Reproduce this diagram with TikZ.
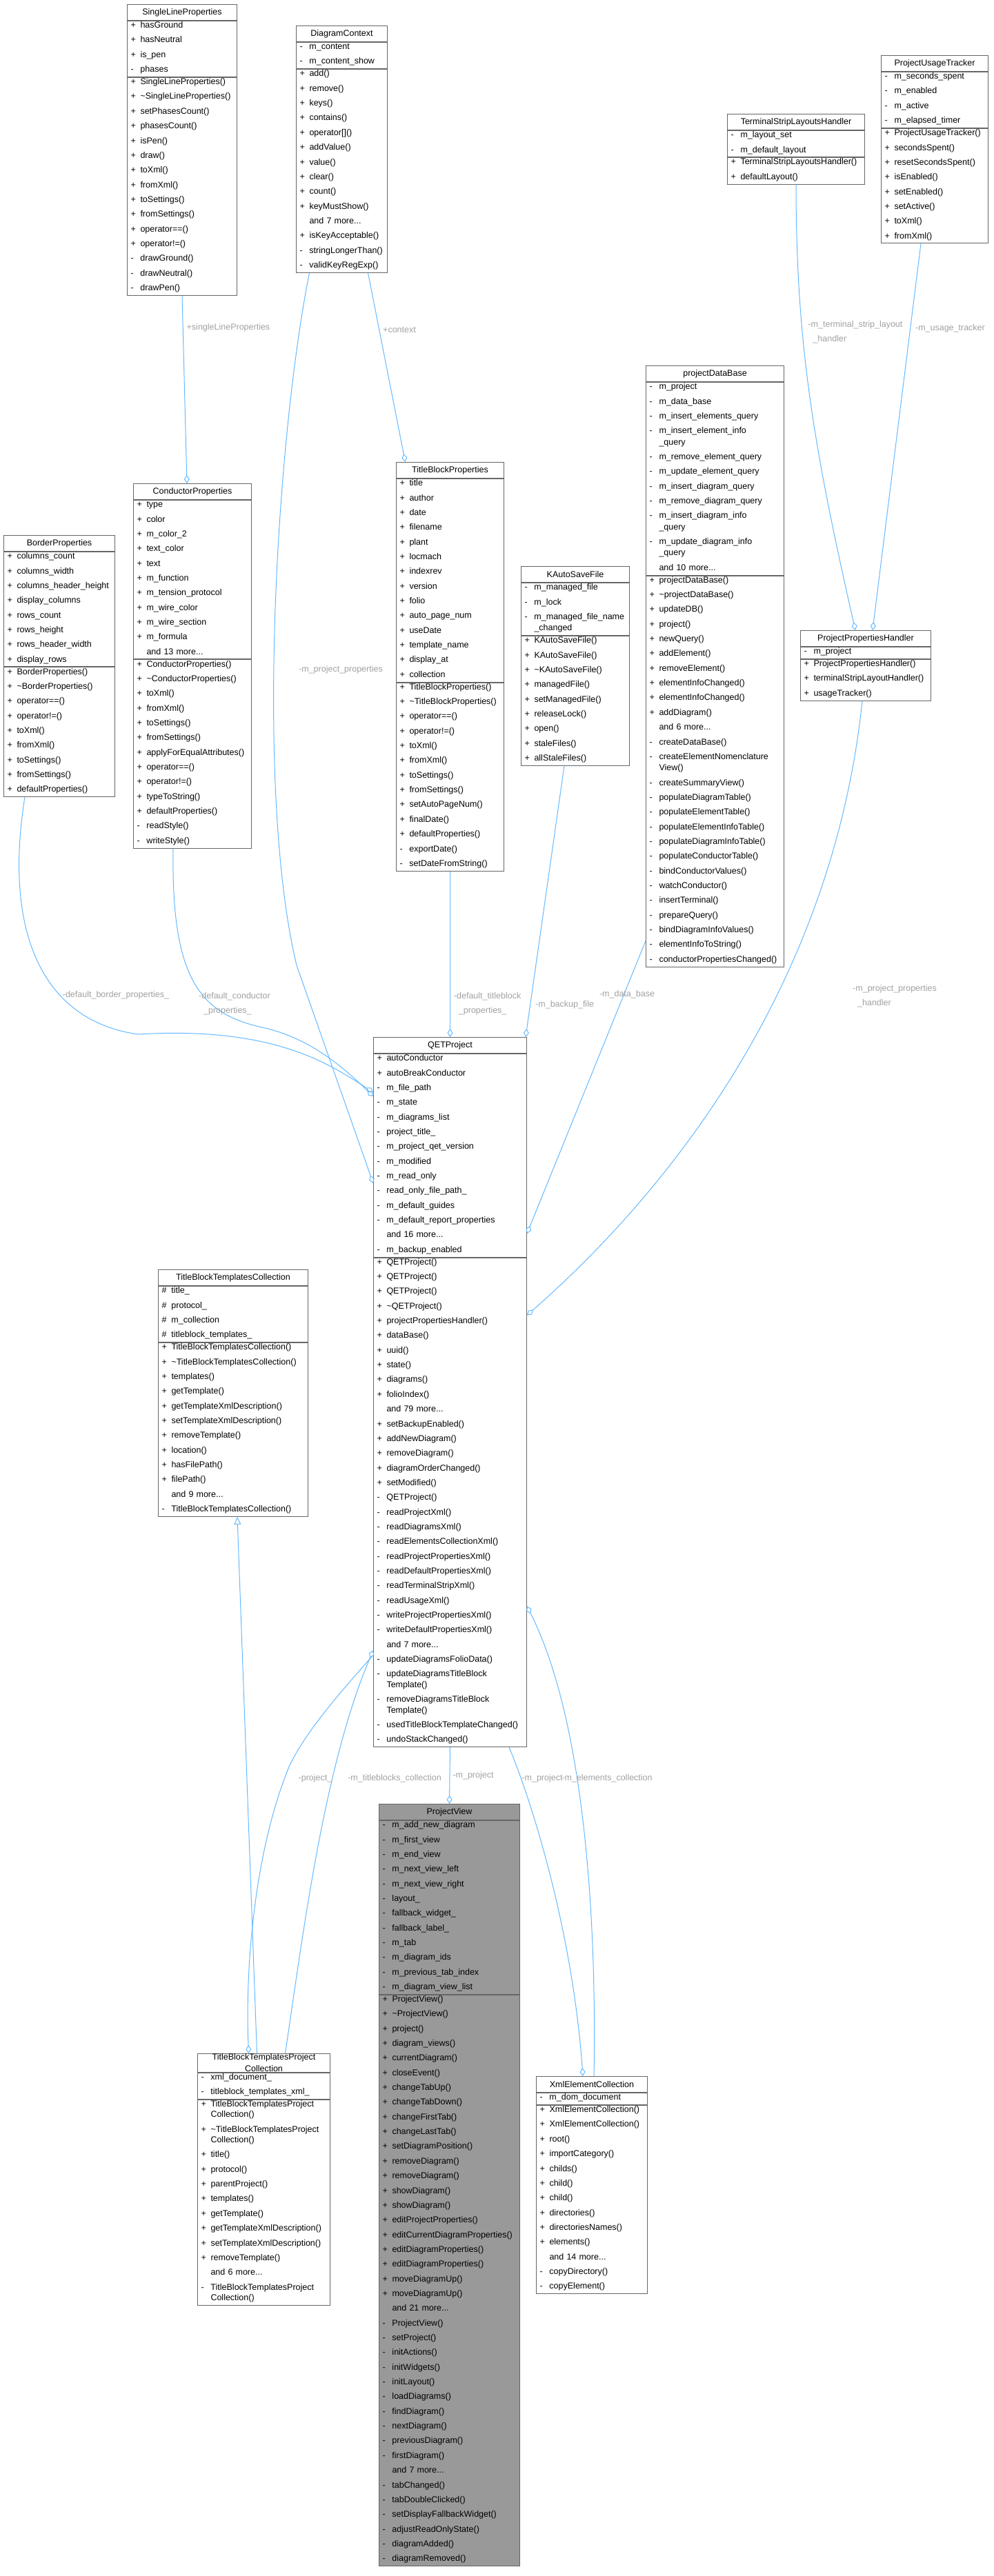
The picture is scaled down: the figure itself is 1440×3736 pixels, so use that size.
\documentclass[tikz,border=0pt]{standalone}
\usepackage{fontspec}
\setmainfont{Liberation Sans}
\usetikzlibrary{arrows.meta,calc}

\definecolor{edgeblue}{HTML}{63B8FF}
\definecolor{boxgray}{HTML}{666666}
\definecolor{lblgray}{HTML}{A0A0A0}
\definecolor{viewfill}{HTML}{999999}

\newcommand{\rs}{\rule[-6pt]{0pt}{15.35pt}}
\newcommand{\rowp}[1]{\rs\makebox[14pt][l]{+}#1}
\newcommand{\rowm}[1]{\rs\makebox[14pt][l]{-}#1}
\newcommand{\rowh}[1]{\rs\makebox[14pt][l]{\#}#1}
\newcommand{\rown}[1]{\rs\makebox[14pt][l]{}#1}
\newcommand{\ti}{\textasciitilde}

\tikzset{
  every picture/.style={line width=1pt},
  cls title/.style={draw=boxgray, inner sep=0pt, minimum height=23pt, align=center, anchor=north west},
  cls body/.style={draw=boxgray, inner xsep=5pt, inner ysep=0.8pt, align=left, anchor=north west},
  cls focus/.style={fill=viewfill},
  agg/.style={draw=edgeblue, line width=1pt, -{Diamond[open, length=12pt, width=8pt]}},
  inh/.style={draw=edgeblue, line width=1pt, -{Triangle[open, length=11pt, width=10pt]}},
  lbl/.style={text=lblgray, inner sep=1pt, align=left},
}

% [style] name, x, y, width, title, attributes, methods
\newcommand{\umlclass}[8][]{%
  \pgfmathsetmacro\tw{#5-10}
  \node[cls title, minimum width=#5pt, #1] (#2) at (#3,#4) {#6};
  \node[cls body, text width=\tw pt, #1] (#2-a) at (#2.south west) {#7};
  \node[cls body, text width=\tw pt, #1] (#2-m) at (#2-a.south west) {#8};
}

\begin{document}
\catcode`\_=12
\begin{tikzpicture}[x=1pt,y=1pt,yscale=-1,font=\fontsize{12.5}{21.35}\selectfont]
\useasboundingbox (0,0) rectangle (1440,3736);

% classes
\umlclass{slp}{184}{6}{159}{SingleLineProperties}
{\rowp{hasGround}\\\rowp{hasNeutral}\\\rowp{is_pen}\\\rowm{phases}}
{\rowp{SingleLineProperties()}\\\rowp{\ti{}SingleLineProperties()}\\\rowp{setPhasesCount()}\\\rowp{phasesCount()}\\\rowp{isPen()}\\\rowp{draw()}\\\rowp{toXml()}\\\rowp{fromXml()}\\\rowp{toSettings()}\\\rowp{fromSettings()}\\\rowp{operator==()}\\\rowp{operator!=()}\\\rowm{drawGround()}\\\rowm{drawNeutral()}\\\rowm{drawPen()}}

\umlclass{dc}{429}{37}{132}{DiagramContext}
{\rowm{m_content}\\\rowm{m_content_show}}
{\rowp{add()}\\\rowp{remove()}\\\rowp{keys()}\\\rowp{contains()}\\\rowp{operator[]()}\\\rowp{addValue()}\\\rowp{value()}\\\rowp{clear()}\\\rowp{count()}\\\rowp{keyMustShow()}\\\rown{and 7 more...}\\\rowp{isKeyAcceptable()}\\\rowm{stringLongerThan()}\\\rowm{validKeyRegExp()}}

\umlclass{tslh}{1054}{165}{199}{TerminalStripLayoutsHandler}
{\rowm{m_layout_set}\\\rowm{m_default_layout}}
{\rowp{TerminalStripLayoutsHandler()}\\\rowp{defaultLayout()}}

\umlclass{put}{1277}{80}{155}{ProjectUsageTracker}
{\rowm{m_seconds_spent}\\\rowm{m_enabled}\\\rowm{m_active}\\\rowm{m_elapsed_timer}}
{\rowp{ProjectUsageTracker()}\\\rowp{secondsSpent()}\\\rowp{resetSecondsSpent()}\\\rowp{isEnabled()}\\\rowp{setEnabled()}\\\rowp{setActive()}\\\rowp{toXml()}\\\rowp{fromXml()}}

\umlclass{pdb}{936}{530}{200}{projectDataBase}
{\rowm{m_project}\\\rowm{m_data_base}\\\rowm{m_insert_elements_query}\\\rowm{m_insert_element_info}\\[-5pt]\rown{_query}\\\rowm{m_remove_element_query}\\\rowm{m_update_element_query}\\\rowm{m_insert_diagram_query}\\\rowm{m_remove_diagram_query}\\\rowm{m_insert_diagram_info}\\[-5pt]\rown{_query}\\\rowm{m_update_diagram_info}\\[-5pt]\rown{_query}\\\rown{and 10 more...}}
{\rowp{projectDataBase()}\\\rowp{\ti{}projectDataBase()}\\\rowp{updateDB()}\\\rowp{project()}\\\rowp{newQuery()}\\\rowp{addElement()}\\\rowp{removeElement()}\\\rowp{elementInfoChanged()}\\\rowp{elementInfoChanged()}\\\rowp{addDiagram()}\\\rown{and 6 more...}\\\rowm{createDataBase()}\\\rowm{createElementNomenclature}\\[-5pt]\rown{View()}\\\rowm{createSummaryView()}\\\rowm{populateDiagramTable()}\\\rowm{populateElementTable()}\\\rowm{populateElementInfoTable()}\\\rowm{populateDiagramInfoTable()}\\\rowm{populateConductorTable()}\\\rowm{bindConductorValues()}\\\rowm{watchConductor()}\\\rowm{insertTerminal()}\\\rowm{prepareQuery()}\\\rowm{bindDiagramInfoValues()}\\\rowm{elementInfoToString()}\\\rowm{conductorPropertiesChanged()}}

\umlclass{tbp}{574}{670}{156}{TitleBlockProperties}
{\rowp{title}\\\rowp{author}\\\rowp{date}\\\rowp{filename}\\\rowp{plant}\\\rowp{locmach}\\\rowp{indexrev}\\\rowp{version}\\\rowp{folio}\\\rowp{auto_page_num}\\\rowp{useDate}\\\rowp{template_name}\\\rowp{display_at}\\\rowp{collection}}
{\rowp{TitleBlockProperties()}\\\rowp{\ti{}TitleBlockProperties()}\\\rowp{operator==()}\\\rowp{operator!=()}\\\rowp{toXml()}\\\rowp{fromXml()}\\\rowp{toSettings()}\\\rowp{fromSettings()}\\\rowp{setAutoPageNum()}\\\rowp{finalDate()}\\\rowp{defaultProperties()}\\\rowm{exportDate()}\\\rowm{setDateFromString()}}

\umlclass{cp}{193}{701}{171}{ConductorProperties}
{\rowp{type}\\\rowp{color}\\\rowp{m_color_2}\\\rowp{text_color}\\\rowp{text}\\\rowp{m_function}\\\rowp{m_tension_protocol}\\\rowp{m_wire_color}\\\rowp{m_wire_section}\\\rowp{m_formula}\\\rown{and 13 more...}}
{\rowp{ConductorProperties()}\\\rowp{\ti{}ConductorProperties()}\\\rowp{toXml()}\\\rowp{fromXml()}\\\rowp{toSettings()}\\\rowp{fromSettings()}\\\rowp{applyForEqualAttributes()}\\\rowp{operator==()}\\\rowp{operator!=()}\\\rowp{typeToString()}\\\rowp{defaultProperties()}\\\rowm{readStyle()}\\\rowm{writeStyle()}}

\umlclass{bp}{5}{776}{161}{BorderProperties}
{\rowp{columns_count}\\\rowp{columns_width}\\\rowp{columns_header_height}\\\rowp{display_columns}\\\rowp{rows_count}\\\rowp{rows_height}\\\rowp{rows_header_width}\\\rowp{display_rows}}
{\rowp{BorderProperties()}\\\rowp{\ti{}BorderProperties()}\\\rowp{operator==()}\\\rowp{operator!=()}\\\rowp{toXml()}\\\rowp{fromXml()}\\\rowp{toSettings()}\\\rowp{fromSettings()}\\\rowp{defaultProperties()}}

\umlclass{kas}{755}{821}{157}{KAutoSaveFile}
{\rowm{m_managed_file}\\\rowm{m_lock}\\\rowm{m_managed_file_name}\\[-5pt]\rown{_changed}}
{\rowp{KAutoSaveFile()}\\\rowp{KAutoSaveFile()}\\\rowp{\ti{}KAutoSaveFile()}\\\rowp{managedFile()}\\\rowp{setManagedFile()}\\\rowp{releaseLock()}\\\rowp{open()}\\\rowp{staleFiles()}\\\rowp{allStaleFiles()}}

\umlclass{pph}{1160}{914}{189}{ProjectPropertiesHandler}
{\rowm{m_project}}
{\rowp{ProjectPropertiesHandler()}\\\rowp{terminalStripLayoutHandler()}\\\rowp{usageTracker()}}

\umlclass{qet}{541}{1504}{222}{QETProject}
{\rowp{autoConductor}\\\rowp{autoBreakConductor}\\\rowm{m_file_path}\\\rowm{m_state}\\\rowm{m_diagrams_list}\\\rowm{project_title_}\\\rowm{m_project_qet_version}\\\rowm{m_modified}\\\rowm{m_read_only}\\\rowm{read_only_file_path_}\\\rowm{m_default_guides}\\\rowm{m_default_report_properties}\\\rown{and 16 more...}\\\rowm{m_backup_enabled}}
{\rowp{QETProject()}\\\rowp{QETProject()}\\\rowp{QETProject()}\\\rowp{\ti{}QETProject()}\\\rowp{projectPropertiesHandler()}\\\rowp{dataBase()}\\\rowp{uuid()}\\\rowp{state()}\\\rowp{diagrams()}\\\rowp{folioIndex()}\\\rown{and 79 more...}\\\rowp{setBackupEnabled()}\\\rowp{addNewDiagram()}\\\rowp{removeDiagram()}\\\rowp{diagramOrderChanged()}\\\rowp{setModified()}\\\rowm{QETProject()}\\\rowm{readProjectXml()}\\\rowm{readDiagramsXml()}\\\rowm{readElementsCollectionXml()}\\\rowm{readProjectPropertiesXml()}\\\rowm{readDefaultPropertiesXml()}\\\rowm{readTerminalStripXml()}\\\rowm{readUsageXml()}\\\rowm{writeProjectPropertiesXml()}\\\rowm{writeDefaultPropertiesXml()}\\\rown{and 7 more...}\\\rowm{updateDiagramsFolioData()}\\\rowm{updateDiagramsTitleBlock}\\[-6pt]\rown{Template()}\\\rowm{removeDiagramsTitleBlock}\\[-6pt]\rown{Template()}\\\rowm{usedTitleBlockTemplateChanged()}\\\rowm{undoStackChanged()}}

\umlclass{tbtc}{229}{1841}{217}{TitleBlockTemplatesCollection}
{\rowh{title_}\\\rowh{protocol_}\\\rowh{m_collection}\\\rowh{titleblock_templates_}}
{\rowp{TitleBlockTemplatesCollection()}\\\rowp{\ti{}TitleBlockTemplatesCollection()}\\\rowp{templates()}\\\rowp{getTemplate()}\\\rowp{getTemplateXmlDescription()}\\\rowp{setTemplateXmlDescription()}\\\rowp{removeTemplate()}\\\rowp{location()}\\\rowp{hasFilePath()}\\\rowp{filePath()}\\\rown{and 9 more...}\\\rowm{TitleBlockTemplatesCollection()}}

\umlclass[cls focus]{pv}{549}{2616}{204}{ProjectView}
{\rowm{m_add_new_diagram}\\\rowm{m_first_view}\\\rowm{m_end_view}\\\rowm{m_next_view_left}\\\rowm{m_next_view_right}\\\rowm{layout_}\\\rowm{fallback_widget_}\\\rowm{fallback_label_}\\\rowm{m_tab}\\\rowm{m_diagram_ids}\\\rowm{m_previous_tab_index}\\\rowm{m_diagram_view_list}}
{\rowp{ProjectView()}\\\rowp{\ti{}ProjectView()}\\\rowp{project()}\\\rowp{diagram_views()}\\\rowp{currentDiagram()}\\\rowp{closeEvent()}\\\rowp{changeTabUp()}\\\rowp{changeTabDown()}\\\rowp{changeFirstTab()}\\\rowp{changeLastTab()}\\\rowp{setDiagramPosition()}\\\rowp{removeDiagram()}\\\rowp{removeDiagram()}\\\rowp{showDiagram()}\\\rowp{showDiagram()}\\\rowp{editProjectProperties()}\\\rowp{editCurrentDiagramProperties()}\\\rowp{editDiagramProperties()}\\\rowp{editDiagramProperties()}\\\rowp{moveDiagramUp()}\\\rowp{moveDiagramUp()}\\\rown{and 21 more...}\\\rowm{ProjectView()}\\\rowm{setProject()}\\\rowm{initActions()}\\\rowm{initWidgets()}\\\rowm{initLayout()}\\\rowm{loadDiagrams()}\\\rowm{findDiagram()}\\\rowm{nextDiagram()}\\\rowm{previousDiagram()}\\\rowm{firstDiagram()}\\\rown{and 7 more...}\\\rowm{tabChanged()}\\\rowm{tabDoubleClicked()}\\\rowm{setDisplayFallbackWidget()}\\\rowm{adjustReadOnlyState()}\\\rowm{diagramAdded()}\\\rowm{diagramRemoved()}}

\umlclass{tbtpc}{286}{2978}{192}{TitleBlockTemplatesProject\\[-4pt]Collection}
{\rowm{xml_document_}\\\rowm{titleblock_templates_xml_}}
{\rowp{TitleBlockTemplatesProject}\\[-6pt]\rown{Collection()}\\\rowp{\ti{}TitleBlockTemplatesProject}\\[-6pt]\rown{Collection()}\\\rowp{title()}\\\rowp{protocol()}\\\rowp{parentProject()}\\\rowp{templates()}\\\rowp{getTemplate()}\\\rowp{getTemplateXmlDescription()}\\\rowp{setTemplateXmlDescription()}\\\rowp{removeTemplate()}\\\rown{and 6 more...}\\\rowm{TitleBlockTemplatesProject}\\[-6pt]\rown{Collection()}}

\umlclass{xec}{777}{3011}{161}{XmlElementCollection}
{\rowm{m_dom_document}}
{\rowp{XmlElementCollection()}\\\rowp{XmlElementCollection()}\\\rowp{root()}\\\rowp{importCategory()}\\\rowp{childs()}\\\rowp{child()}\\\rowp{child()}\\\rowp{directories()}\\\rowp{directoriesNames()}\\\rowp{elements()}\\\rown{and 14 more...}\\\rowm{copyDirectory()}\\\rowm{copyElement()}}

% connectors
\draw[agg] (slp-m.south) -- ([xshift=-8pt]cp.north) node[lbl, pos=0.17, right=4pt] {+singleLineProperties};
\draw[agg] ([xshift=38pt]dc-m.south) -- ([xshift=-65pt]tbp.north) node[lbl, pos=0.3, right=4pt] {+context};
\draw[agg] ([xshift=-47pt]dc-m.south) .. controls (400,640) and (370,1150) .. (430,1400) -- ([yshift=188pt]qet-a.north west);
\node[lbl] at (494,971) {-m_project_properties};
\draw[agg] ([xshift=-50pt]bp-m.south) .. controls (5,1350) and (60,1480) .. (200,1500) .. controls (400,1488) and (480,1545) .. ([yshift=56pt]qet-a.north west);
\node[lbl] at (168,1443) {-default_border_properties_};
\draw[agg] ([xshift=-28pt]cp-m.south) .. controls (248,1420) and (290,1470) .. (380,1490) .. controls (450,1505) and (500,1550) .. ([yshift=62pt]qet-a.north west);
\node[lbl] at (340,1456) {-default_conductor\\\ \ _properties_};
\draw[agg] (tbp-m.south) -- (qet.north) node[lbl, pos=0.8, right=4pt] {-default_titleblock\\\ \ _properties_};
\draw[agg] ([xshift=-16pt]kas-m.south) -- ([xshift=-2pt]qet.north east) node[lbl, pos=0.88, right=6pt] {-m_backup_file};
\draw[agg] ([yshift=-38pt]pdb-m.south west) -- ([yshift=261pt]qet-a.north east);
\node[lbl] at (909,1442) {-m_data_base};
\draw[agg] ([xshift=-5pt]pph-m.south) .. controls (1210,1400) and (1000,1700) .. ([yshift=84pt]qet-m.north east);
\node[lbl] at (1297,1445) {-m_project_properties\\\ \ _handler};
\draw[agg] (tslh-m.south) .. controls (1154,500) and (1180,650) .. ([xshift=-15pt]pph.north);
\node[lbl] at (1240,482) {-m_terminal_strip_layout\\\ \ _handler};
\draw[agg] ([xshift=-20pt]put-m.south) -- ([xshift=10pt]pph.north) node[lbl, pos=0.22, right=6pt] {-m_usage_tracker};
\draw[agg] (qet-m.south) -- (pv.north) node[lbl, midway, right=3pt] {-m_project};
\draw[inh] ([xshift=-10pt]tbtpc.north) -- ([xshift=6pt]tbtc-m.south);
\draw[agg] ([yshift=577pt]qet-m.north west) .. controls (470,2480) and (440,2520) .. (420,2560) .. controls (370,2680) and (355,2850) .. ([xshift=-22pt]tbtpc.north);
\node[lbl] at (457,2579) {-project_};
\draw[agg] ([xshift=31pt]tbtpc.north) .. controls (440,2800) and (470,2560) .. ([yshift=570pt]qet-m.north west);
\node[lbl] at (572,2579) {-m_titleblocks_collection};
\draw[agg] ([xshift=-26pt]qet-m.south east) .. controls (770,2610) and (830,2800) .. ([xshift=-13pt]xec.north);
\node[lbl] at (786,2579) {-m_project};
\draw[agg] ([xshift=3pt]xec.north) .. controls (865,2800) and (850,2500) .. ([yshift=506pt]qet-m.north east);
\node[lbl] at (880,2579) {-m_elements_collection};

\end{tikzpicture}
\end{document}
